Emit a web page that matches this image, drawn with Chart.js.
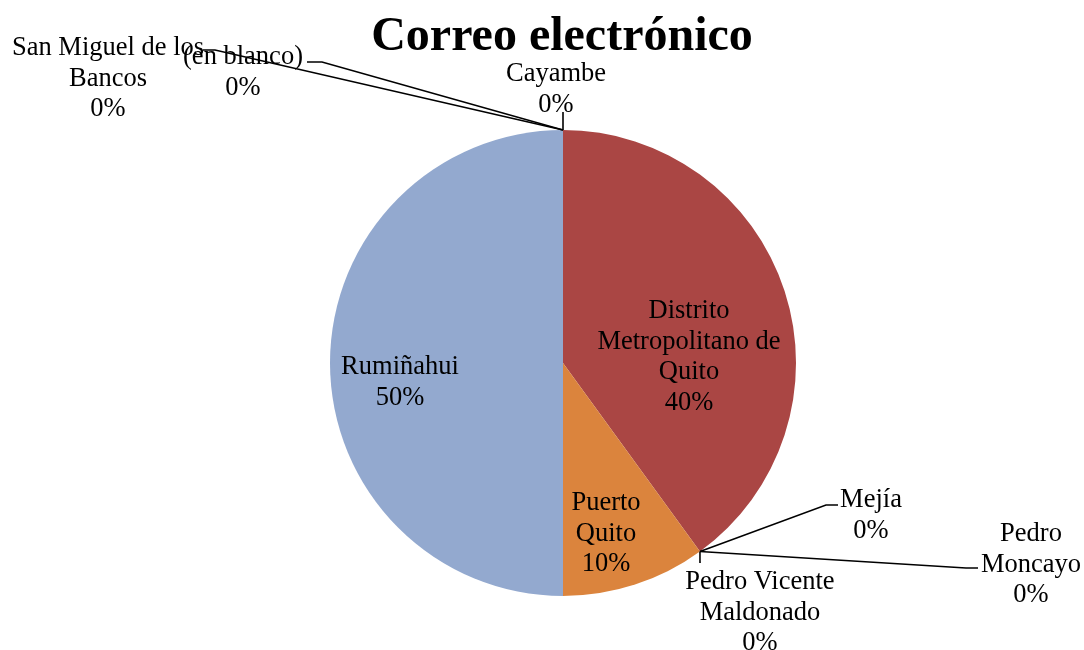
<!DOCTYPE html>
<html>
<head>
<meta charset="utf-8">
<script src="https://cdn.jsdelivr.net/npm/chart.js@4"></script>
<style>
  html, body { margin: 0; padding: 0; background: #fff; }
  #wrap { width: 1084px; height: 650px; position: relative; }
</style>
</head>
<body>
<div id="wrap"><canvas id="pieChart"></canvas></div>
<script>
const chartTitle = 'Correo electrónico';
const cantones = ['Cayambe', 'Distrito Metropolitano de Quito', 'Mejía', 'Pedro Moncayo',
  'Pedro Vicente Maldonado', 'Puerto Quito', 'Rumiñahui', 'San Miguel de los Bancos', '(en blanco)'];
const valores = [0, 40, 0, 0, 0, 10, 50, 0, 0];
const colores = ['#4F81BD', '#AA4644', '#89A54E', '#71588F', '#4198AF', '#DB843D', '#93A9CF', '#B9CD96', '#A99BBD'];

// where each label goes: wrapped lines, text centre x, first baseline y,
// and for labels outside the pie the end of the leader line
const labelLayout = [
  { lines: ['Cayambe'], x: 556, y: 81, leader: [[563, 112]] },
  { lines: ['Distrito', 'Metropolitano de', 'Quito'], x: 689, y: 318 },
  { lines: ['Mejía'], x: 871, y: 507, leader: [[826, 505], [838, 505]] },
  { lines: ['Pedro', 'Moncayo'], x: 1031, y: 541, leader: [[966, 568], [978, 568]] },
  { lines: ['Pedro Vicente', 'Maldonado'], x: 760, y: 589, leader: [[700, 563]] },
  { lines: ['Puerto', 'Quito'], x: 606, y: 510 },
  { lines: ['Rumiñahui'], x: 400, y: 374 },
  { lines: ['San Miguel de los', 'Bancos'], x: 108, y: 55, leader: [[215, 50], [203, 50]] },
  { lines: ['(en blanco)'], x: 243, y: 64, leader: [[322, 62], [307, 62]] }
];

const labelFont = '26.5px "Liberation Serif", "Times New Roman", serif';
const lineGap = 30.5;

const pieLabels = {
  id: 'pieLabels',
  afterDatasetsDraw(chart) {
    const ctx = chart.ctx;
    const meta = chart.getDatasetMeta(0);
    const total = valores.reduce((a, b) => a + b, 0);

    ctx.save();
    // title
    ctx.fillStyle = '#000';
    ctx.font = 'bold 48px "Liberation Serif", "Times New Roman", serif';
    ctx.textAlign = 'center';
    ctx.textBaseline = 'alphabetic';
    ctx.fillText(chartTitle, 562, 50);

    // leader lines, from the edge of each slice
    meta.data.forEach((arc, i) => {
      const lay = labelLayout[i];
      if (!lay.leader) return;
      const p = arc.getProps(['x', 'y', 'startAngle', 'endAngle', 'outerRadius'], true);
      const mid = (p.startAngle + p.endAngle) / 2;
      const sx = p.x + Math.cos(mid) * p.outerRadius;
      const sy = p.y + Math.sin(mid) * p.outerRadius;
      ctx.beginPath();
      ctx.moveTo(sx, sy);
      lay.leader.forEach(pt => ctx.lineTo(pt[0], pt[1]));
      ctx.strokeStyle = '#000';
      ctx.lineWidth = 1.6;
      ctx.stroke();
    });

    // texts
    ctx.font = labelFont;
    ctx.fillStyle = '#000';
    meta.data.forEach((arc, i) => {
      const lay = labelLayout[i];
      const pct = Math.round(valores[i] / total * 100) + '%';
      const rows = lay.lines.concat([pct]);
      rows.forEach((t, k) => ctx.fillText(t, lay.x, lay.y + k * lineGap));
    });
    ctx.restore();
  }
};

new Chart(document.getElementById('pieChart'), {
  type: 'pie',
  data: {
    labels: cantones,
    datasets: [{
      data: valores,
      backgroundColor: colores,
      borderWidth: 0
    }]
  },
  options: {
    responsive: true,
    maintainAspectRatio: false,
    animation: false,
    layout: { padding: { top: 130, bottom: 54, left: 100, right: 58 } },
    plugins: {
      legend: { display: false },
      title: { display: false },
      tooltip: { enabled: false }
    }
  },
  plugins: [pieLabels]
});
</script>
</body>
</html>
